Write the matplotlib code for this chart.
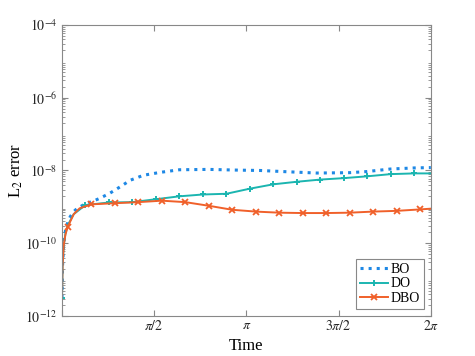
import numpy as np
import matplotlib
matplotlib.use('Agg')
import matplotlib.pyplot as plt

plt.rcParams['font.family'] = ['Liberation Serif', 'DejaVu Serif']
plt.rcParams['mathtext.fontset'] = 'stix'

# BO: dotted line, no markers
bo_t = [0.0, 0.01, 0.03, 0.06, 0.1, 0.14, 0.2, 0.26, 0.35, 0.43, 0.55, 0.65, 0.82, 1.0,
        1.16, 1.39, 1.68, 2.0, 2.5, 3.0, 3.38, 3.77, 4.34, 4.9, 5.19, 5.59, 6.0, 2 * np.pi]
bo_log = [-11.5, -10.6, -10.0, -9.65, -9.42, -9.27, -9.13, -9.04, -8.96, -8.90, -8.83, -8.76,
          -8.62, -8.44, -8.27, -8.13, -8.05, -7.98, -7.97, -7.99, -8.0, -8.03, -8.07, -8.06,
          -8.03, -7.96, -7.93, -7.92]

# DO: markers every 0.4
do_t = [0.0, 0.01, 0.03, 0.06, 0.1, 0.2, 0.4, 0.8, 1.2, 1.6, 2.0, 2.4, 2.8, 3.2,
        3.6, 4.0, 4.4, 4.8, 5.2, 5.6, 6.0, 2 * np.pi]
do_log = [-11.5, -10.6, -10.05, -9.72, -9.5, -9.2, -8.95, -8.88, -8.87, -8.79, -8.71, -8.66,
          -8.64, -8.50, -8.38, -8.31, -8.25, -8.21, -8.16, -8.10, -8.08, -8.08]
do_marks = [0, 6, 7, 8, 9, 10, 11, 12, 13, 14, 15, 16, 17, 18, 19, 20]

# DBO: markers every 0.4 starting at 0.1
dbo_t = [0.0, 0.01, 0.03, 0.06, 0.1, 0.2, 0.3, 0.5, 0.9, 1.3, 1.7, 2.1, 2.5, 2.9,
         3.3, 3.7, 4.1, 4.5, 4.9, 5.3, 5.7, 6.1, 2 * np.pi]
dbo_log = [-11.5, -10.6, -10.05, -9.75, -9.54, -9.2, -9.04, -8.93, -8.90, -8.87, -8.83, -8.87,
           -8.97, -9.08, -9.13, -9.16, -9.17, -9.17, -9.16, -9.13, -9.11, -9.07, -9.05]
dbo_marks = [4, 7, 8, 9, 10, 11, 12, 13, 14, 15, 16, 17, 18, 19, 20, 21]

fig = plt.figure(figsize=(4.75, 3.56), dpi=100)
ax = fig.add_axes([0.1305, 0.1124, 0.7765, 0.8174])

ax.plot(bo_t, 10.0 ** np.array(bo_log), ':', color='#1E88E5', lw=2.2, label='BO')
ax.plot(do_t, 10.0 ** np.array(do_log), '-', color='#1BB5B0', lw=1.4, marker='+',
        markevery=do_marks, ms=5, mew=1.4, label='DO')
ax.plot(dbo_t, 10.0 ** np.array(dbo_log), '-', color='#F0602A', lw=1.4, marker='x',
        markevery=dbo_marks, ms=4, mew=1.3, label='DBO')

ax.set_yscale('log')
ax.set_xlim(0, 2 * np.pi)
ax.set_ylim(1e-12, 1e-4)
ax.set_yticks([1e-12, 1e-10, 1e-8, 1e-6, 1e-4])
ax.set_yticklabels(['$10^{-12}$', '$10^{-10}$', '$10^{-8}$', '$10^{-6}$', '$10^{-4}$'])
ax.set_xticks([0, np.pi / 2, np.pi, 3 * np.pi / 2, 2 * np.pi])
ax.set_xticklabels(['', r'$\pi/2$', r'$\pi$', r'$3\pi/2$', r'$2\pi$'])

for s in ax.spines.values():
    s.set_color('#888888')
    s.set_linewidth(0.8)
ax.tick_params(which='both', direction='in', top=True, right=True, color='#888888',
               labelsize=10, labelcolor='#262626')
ax.tick_params(axis='y', pad=3.5)
ax.tick_params(axis='x', pad=2.5)
ax.tick_params(which='major', length=4)
ax.tick_params(which='minor', length=2)
ax.minorticks_on()
ax.xaxis.set_minor_locator(matplotlib.ticker.NullLocator())

ax.set_xlabel('Time', fontsize=12, labelpad=3)
ax.set_ylabel('L$_2$ error', fontsize=12)
ax.yaxis.set_label_coords(-0.1, 0.5)

leg = ax.legend(loc='lower right', fontsize=10, fancybox=False, framealpha=1,
                edgecolor='#888888', handlelength=2.0, handletextpad=0.15,
                borderpad=0.3, labelspacing=0.1, borderaxespad=0.5)
leg.get_frame().set_linewidth(0.8)

fig.savefig('out.png', dpi=100)
